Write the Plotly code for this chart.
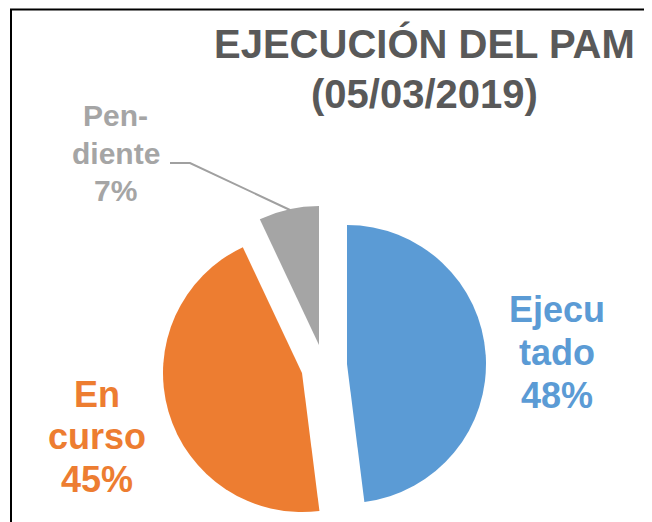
import plotly.graph_objects as go

# ---- data ----
labels = ["Ejecutado", "En curso", "Pendiente"]
label_lines = [["Ejecu", "tado"], ["En", "curso"], ["Pen-", "diente"]]
values = [48, 45, 7]
colors = ["#5b9bd5", "#ed7d31", "#a5a5a5"]
title_lines = ["EJECUCIÓN DEL PAM", "(05/03/2019)"]

W, H = 652, 522
OFF = 8  # page offset of the figure inside the browser window
FONT = "Liberation Sans, Arial, sans-serif"
R = 139  # slice radius in px


def px_x(x):
    return (x - OFF) / W


def px_y(y):
    return 1 - (y - OFF) / H


# exploded layout: each slice drawn by its own pie trace, vertex position in px
vertex = [(347, 364), (302, 373), (319, 345)]

fig = go.Figure()
for i in range(len(values)):
    vx, vy = vertex[i]
    slice_colors = [colors[j] if j == i else "rgba(0,0,0,0)" for j in range(len(values))]
    fig.add_trace(go.Pie(
        labels=labels,
        values=values,
        sort=False,
        direction="clockwise",
        rotation=0,
        marker=dict(colors=slice_colors, line=dict(width=0)),
        textinfo="none",
        hoverinfo="skip",
        showlegend=False,
        domain=dict(x=[px_x(vx - R), px_x(vx + R)],
                    y=[px_y(vy + R), px_y(vy - R)]),
    ))

total = sum(values)
pcts = [round(v / total * 100) for v in values]

# label layout: centre x and baselines of each line (px)
label_x = [557, 97, 116]
label_baselines = [[321, 364, 407], [406, 448, 491], [125, 163, 200]]
label_size = [36, 36, 30]

annotations = []


def add_line(text, x, baseline, size, color):
    annotations.append(dict(
        x=px_x(x), y=px_y(baseline - 0.32 * size), xref="paper", yref="paper",
        text=text, showarrow=False, xanchor="center", yanchor="middle", align="center",
        font=dict(family=FONT, size=size, color=color, weight="bold"),
    ))


for i in range(len(values)):
    lines = label_lines[i] + [f"{pcts[i]}%"]
    for line, b in zip(lines, label_baselines[i]):
        add_line(line, label_x[i], b, label_size[i], colors[i])

title_baselines = [56, 107]
for line, b in zip(title_lines, title_baselines):
    add_line(line, 424, b, 40, "#595959")

shapes = [
    # outer chart border (cropped at right/bottom)
    dict(type="rect", xref="paper", yref="paper",
         x0=px_x(11), x1=px_x(W + 30), y0=px_y(H + 30), y1=px_y(9.5),
         line=dict(color="#000000", width=2), fillcolor="rgba(0,0,0,0)"),
    # leader line for "Pendiente"
    dict(type="path", xref="paper", yref="paper",
         path=f"M {px_x(170)},{px_y(163)} L {px_x(190)},{px_y(163)} L {px_x(290)},{px_y(210)}",
         line=dict(color="#a0a0a0", width=2)),
]

fig.update_layout(
    width=W, height=H,
    margin=dict(l=0, r=0, t=0, b=0),
    paper_bgcolor="white", plot_bgcolor="white",
    annotations=annotations,
    shapes=shapes,
)

fig.write_html("out.html")
